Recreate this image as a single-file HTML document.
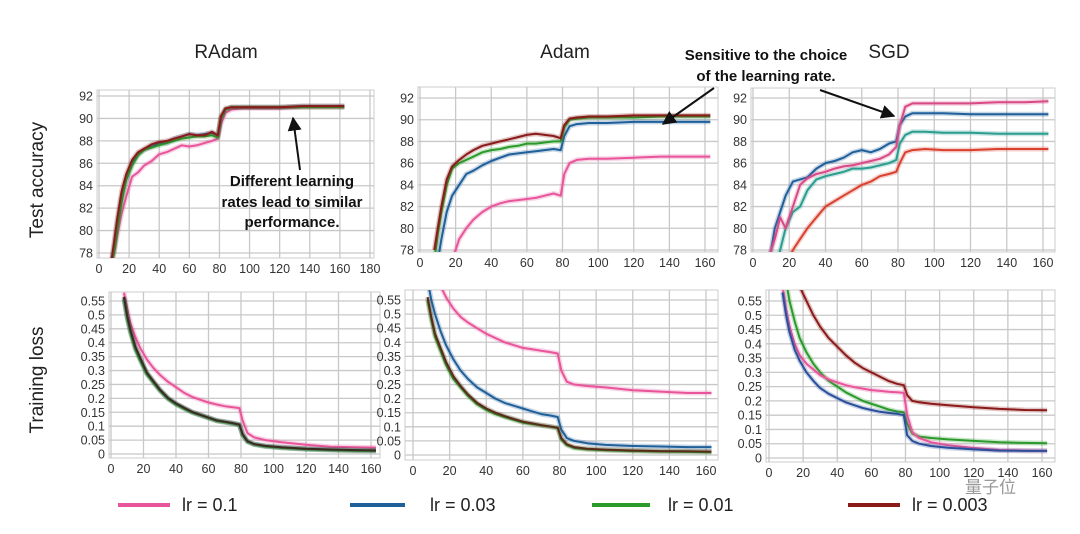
<!DOCTYPE html>
<html><head><meta charset="utf-8"><style>
body{margin:0;background:#fff;}
svg{display:block;font-family:"Liberation Sans","Noto Sans CJK SC",sans-serif;}
</style></head><body>
<svg id="chart" width="1080" height="534" viewBox="0 0 1080 534" xmlns="http://www.w3.org/2000/svg">
<defs>
<marker id="ah" viewBox="0 0 10 10" refX="9" refY="5" markerWidth="7" markerHeight="7" orient="auto"><path d="M0,0 L10,5 L0,10 z" fill="#111"/></marker>
</defs>
<text x="226" y="58" font-size="19" text-anchor="middle" fill="#222">RAdam</text>
<text x="565" y="58" font-size="19" text-anchor="middle" fill="#222">Adam</text>
<text x="889" y="58" font-size="19" text-anchor="middle" fill="#222">SGD</text>
<text transform="translate(43,180) rotate(-90)" font-size="19" text-anchor="middle" fill="#222">Test accuracy</text>
<text transform="translate(43,380) rotate(-90)" font-size="19" text-anchor="middle" fill="#222">Training loss</text>
<g id="panels"></g>
<g font-size="15" font-weight="bold" text-anchor="middle" fill="#111">
<text x="292" y="186">Different learning</text>
<text x="292" y="207">rates lead to similar</text>
<text x="292" y="227">performance.</text>
</g>
<line x1="300" y1="170" x2="293" y2="118" stroke="#111" stroke-width="2" marker-end="url(#ah)"/>
<g font-size="15" font-weight="bold" text-anchor="middle" fill="#111">
<text x="766" y="60">Sensitive to the choice</text>
<text x="766" y="81">of the learning rate.</text>
</g>
<line x1="714" y1="88" x2="663" y2="124" stroke="#111" stroke-width="2" marker-end="url(#ah)"/>
<line x1="820" y1="90" x2="894" y2="116" stroke="#111" stroke-width="2" marker-end="url(#ah)"/>
<g font-size="18" fill="#222">
<g><line x1="118" y1="505" x2="170" y2="505" stroke="#e8559a" stroke-width="4"/><text x="182" y="511">lr = 0.1</text></g>
<g><line x1="350" y1="505" x2="405" y2="505" stroke="#1f5f9a" stroke-width="4"/><text x="430" y="511">lr = 0.03</text></g>
<g><line x1="592" y1="505" x2="650" y2="505" stroke="#2a9a2a" stroke-width="4"/><text x="668" y="511">lr = 0.01</text></g>
<g><line x1="848" y1="505" x2="900" y2="505" stroke="#8b1a1a" stroke-width="4"/><text x="912" y="511">lr = 0.003</text></g>
</g>
<text x="965" y="493" font-size="17" fill="#999">量子位</text>
</svg>
<script>
const epochs=[8,10,12,15,18,22,26,30,35,40,45,50,55,60,65,70,75,79,81,84,88,95,105,120,135,150,163];
const radamAccPink=[77,78,79.5,81.5,83,84.8,85.2,85.8,86.2,86.8,87,87.3,87.6,87.5,87.6,87.8,88,88.2,89.5,90.5,90.8,90.9,90.9,90.9,91,91,91];
const radamAccBlue=[77,78.5,80.5,83,84.5,86,86.8,87.2,87.5,87.8,87.8,88.2,88.4,88.6,88.5,88.6,88.7,88.5,90,90.8,91,91,91,91,91.1,91.1,91.1];
const radamAccGreen=[77,78,80,82.5,84.5,85.8,86.7,87.2,87.4,87.6,87.8,88,88.2,88.3,88.4,88.4,88.5,88.3,90,90.8,91,91,91,91,91,91,91];
const radamAccRed=[77,79,81,83.5,85,86.3,87,87.3,87.7,87.9,88,88.2,88.4,88.6,88.5,88.5,88.8,88.5,90.2,90.9,91,91,91,91,91.1,91.1,91.1];
const adamAccPink=[70,72,74,76,77,79,80,80.8,81.5,82,82.3,82.5,82.6,82.7,82.8,83,83.2,83,85,86,86.3,86.4,86.4,86.5,86.6,86.6,86.6];
const adamAccBlue=[75,77,79,81.5,83,84,85,85.3,85.8,86.2,86.5,86.8,86.9,87,87.1,87.2,87.3,87.2,88.5,89.4,89.6,89.7,89.7,89.8,89.8,89.8,89.8];
const adamAccGreen=[77,79.5,81.5,84,85.5,86,86.3,86.6,87,87.2,87.3,87.5,87.6,87.8,87.8,87.9,88,88,89.3,90,90.1,90.2,90.2,90.2,90.3,90.3,90.3];
const adamAccRed=[78,80,82,84.5,85.7,86.3,86.8,87.2,87.6,87.8,88,88.2,88.4,88.6,88.7,88.6,88.5,88.3,89.5,90.1,90.2,90.3,90.3,90.4,90.4,90.4,90.4];
const sgdAccPink=[77,78,79,81,80,82,84,84.6,85,85.2,85.5,85.7,85.8,86,86.2,86.4,86.8,87.5,89.5,91.2,91.5,91.5,91.5,91.5,91.6,91.6,91.7];
const sgdAccBlue=[76,78,80,81.5,83,84.3,84.5,84.7,85.5,86,86.2,86.5,87,87.2,87,87.3,87.8,88,89.5,90.3,90.6,90.6,90.6,90.5,90.5,90.5,90.5];
const sgdAccGreen=[72,74,76,78,80,81.5,82,83.5,84.5,84.8,85,85.2,85.5,85.5,85.6,85.8,86,86.3,87.8,88.6,88.9,88.9,88.8,88.8,88.7,88.7,88.7];
const sgdAccRed=[70,71,73,75,76.5,78,79,80,81,82,82.5,83,83.5,84,84.3,84.8,85,85.2,86,87,87.2,87.3,87.2,87.2,87.3,87.3,87.3];
const radamLossPink=[0.58,0.52,0.47,0.42,0.38,0.34,0.31,0.285,0.26,0.24,0.22,0.205,0.195,0.185,0.178,0.172,0.168,0.165,0.12,0.075,0.06,0.05,0.042,0.033,0.026,0.024,0.023];
const radamLossBlue=[0.56,0.49,0.44,0.38,0.34,0.29,0.26,0.23,0.2,0.18,0.165,0.15,0.14,0.13,0.12,0.115,0.11,0.105,0.07,0.045,0.035,0.028,0.023,0.018,0.015,0.013,0.012];
const radamLossGreen=[0.555,0.485,0.435,0.375,0.335,0.287,0.257,0.228,0.198,0.178,0.163,0.149,0.139,0.129,0.119,0.114,0.109,0.104,0.068,0.044,0.034,0.027,0.022,0.017,0.014,0.012,0.011];
const radamLossRed=[0.565,0.495,0.445,0.385,0.345,0.293,0.262,0.232,0.202,0.182,0.166,0.151,0.141,0.131,0.121,0.116,0.111,0.106,0.071,0.046,0.036,0.029,0.024,0.019,0.016,0.014,0.013];
const adamLossPink=[0.75,0.7,0.65,0.6,0.56,0.52,0.49,0.47,0.45,0.43,0.415,0.4,0.39,0.38,0.375,0.37,0.365,0.36,0.3,0.26,0.25,0.245,0.24,0.23,0.225,0.22,0.22];
const adamLossBlue=[0.62,0.55,0.5,0.44,0.39,0.34,0.3,0.27,0.24,0.22,0.2,0.185,0.175,0.165,0.155,0.145,0.14,0.135,0.09,0.06,0.05,0.042,0.036,0.032,0.03,0.028,0.028];
const adamLossGreen=[0.55,0.48,0.42,0.37,0.32,0.27,0.24,0.21,0.18,0.16,0.145,0.135,0.125,0.115,0.11,0.105,0.1,0.095,0.055,0.035,0.025,0.02,0.017,0.014,0.012,0.011,0.01];
const adamLossRed=[0.56,0.49,0.43,0.38,0.33,0.28,0.245,0.215,0.185,0.165,0.15,0.138,0.128,0.118,0.112,0.106,0.101,0.097,0.06,0.038,0.028,0.022,0.019,0.016,0.014,0.013,0.012];
const sgdLossPink=[0.6,0.52,0.46,0.4,0.36,0.33,0.31,0.29,0.275,0.265,0.255,0.248,0.243,0.238,0.235,0.232,0.23,0.228,0.15,0.09,0.07,0.055,0.045,0.035,0.028,0.026,0.025];
const sgdLossBlue=[0.58,0.5,0.44,0.38,0.34,0.3,0.27,0.245,0.225,0.21,0.195,0.185,0.175,0.168,0.162,0.158,0.155,0.15,0.08,0.06,0.05,0.042,0.036,0.03,0.026,0.025,0.025];
const sgdLossGreen=[0.7,0.62,0.55,0.48,0.42,0.37,0.33,0.3,0.27,0.25,0.23,0.215,0.2,0.19,0.18,0.17,0.163,0.16,0.12,0.085,0.075,0.07,0.065,0.06,0.055,0.053,0.052];
const sgdLossRed=[0.9,0.8,0.72,0.65,0.6,0.55,0.5,0.46,0.42,0.39,0.36,0.335,0.315,0.3,0.285,0.27,0.26,0.255,0.22,0.2,0.195,0.19,0.185,0.178,0.172,0.168,0.167];
const accTicks=[78,80,82,84,86,88,90,92];
const lossTicks=[0,0.05,0.1,0.15,0.2,0.25,0.3,0.35,0.4,0.45,0.5,0.55];
const lossTickLabels=["0","0.05","0.1","0.15","0.2","0.25","0.3","0.35","0.4","0.45","0.5","0.55"];
const xTicksWide=[0,20,40,60,80,100,120,140,160,180];
const xTicksNarrow=[0,20,40,60,80,100,120,140,160];

const NS="http://www.w3.org/2000/svg";
const root=document.getElementById('panels');
function mk(tag,attrs,parent){const e=document.createElementNS(NS,tag);for(const k in attrs)e.setAttribute(k,attrs[k]);parent.appendChild(e);return e;}
const C={pink:"#e8559a",blue:"#1f5f9a",green:"#2a9a2a",red:"#8b1a1a",teal:"#2a9d8f",orange:"#d9412e"};
const panels=[
 {name:"radam-accuracy",box:[97,90,374,258],x0:99,x1:370,xv1:180,y0:253,y1:96,yv0:78,yv1:92,yt:accTicks,yl:accTicks.map(String),xt:xTicksWide,series:[[radamAccPink,C.pink,"pink"],[radamAccBlue,C.blue,"blue"],[radamAccGreen,C.green,"green"],[radamAccRed,C.red,"red"]]},
 {name:"adam-accuracy",box:[418,87,718,252],x0:420,x1:705,xv1:160,y0:250,y1:98,yv0:78,yv1:92,yt:accTicks,yl:accTicks.map(String),xt:xTicksNarrow,series:[[adamAccPink,C.pink,"pink"],[adamAccBlue,C.blue,"blue"],[adamAccGreen,C.green,"green"],[adamAccRed,C.red,"red"]]},
 {name:"sgd-accuracy",box:[751,88,1055,252],x0:753,x1:1043,xv1:160,y0:250,y1:98,yv0:78,yv1:92,yt:accTicks,yl:accTicks.map(String),xt:xTicksNarrow,series:[[sgdAccRed,C.orange,"red"],[sgdAccGreen,C.teal,"green"],[sgdAccBlue,C.blue,"blue"],[sgdAccPink,"#d84a86","pink"]]},
 {name:"radam-loss",box:[109,292,380,458],x0:111,x1:371,xv1:160,y0:454,y1:301,yv0:0,yv1:0.55,yt:lossTicks,yl:lossTickLabels,xt:xTicksNarrow,series:[[radamLossPink,C.pink,"pink"],[radamLossBlue,C.blue,"blue"],[radamLossGreen,C.green,"green"],[radamLossRed,"#3a2a22","red"]]},
 {name:"adam-loss",box:[405,290,718,460],x0:413,x1:706,xv1:160,y0:455,y1:300,yv0:0,yv1:0.55,yt:lossTicks,yl:lossTickLabels,xt:xTicksNarrow,series:[[adamLossPink,C.pink,"pink"],[adamLossBlue,C.blue,"blue"],[adamLossGreen,C.green,"green"],[adamLossRed,"#5a2a1a","red"]]},
 {name:"sgd-loss",box:[766,290,1055,462],x0:769,x1:1042,xv1:160,y0:458,y1:301,yv0:0,yv1:0.55,yt:lossTicks,yl:lossTickLabels,xt:xTicksNarrow,series:[[sgdLossRed,C.red,"red"],[sgdLossGreen,C.green,"green"],[sgdLossPink,C.pink,"pink"],[sgdLossBlue,"#2a4f9a","blue"]]}
];
panels.forEach((p,i)=>{
 const g=mk('g',{},root);
 
 
 const sx=v=>p.x0+(v/p.xv1)*(p.x1-p.x0);
 const sy=v=>p.y0+(v-p.yv0)/(p.yv1-p.yv0)*(p.y1-p.y0);
 const [bx0,by0,bx1,by1]=p.box;
 mk('rect',{x:bx0,y:by0,width:bx1-bx0,height:by1-by0,fill:"#fff",stroke:"#ccc","stroke-width":1},g);
 p.yt.forEach((t,k)=>{const y=sy(t);
  mk('line',{x1:bx0,x2:bx1,y1:y,y2:y,stroke:"#c8c8c8","stroke-width":1.3},g);
  const tx=mk('text',{x:bx0-4,y:y+4.5,"font-size":12.5,"text-anchor":"end",fill:"#333"},g);tx.textContent=p.yl[k];
  
  
 });
 p.xt.forEach(t=>{const x=sx(t);
  mk('line',{x1:x,x2:x,y1:by0,y2:by1,stroke:"#c8c8c8","stroke-width":1.3},g);
  const tx=mk('text',{x:x,y:by1+15,"font-size":12.5,"text-anchor":"middle",fill:"#333"},g);tx.textContent=String(t);
  
  
 });
 const cid='clip'+i;
 const cp=mk('clipPath',{id:cid},g);mk('rect',{x:bx0,y:by0,width:bx1-bx0,height:by1-by0},cp);
 const sg=mk('g',{'clip-path':'url(#'+cid+')'},g);
 p.series.forEach(s=>{
  const d=s[0].map((v,k)=>(k?'L':'M')+sx(epochs[k]).toFixed(1)+','+sy(v).toFixed(1)).join(' ');
  mk('path',{d:d,fill:"none",stroke:s[1],"stroke-width":5,"stroke-opacity":0.25,"stroke-linejoin":"round"},sg);
  const pl=mk('path',{d:d,fill:"none",stroke:s[1],"stroke-width":2,"stroke-linejoin":"round"},sg);
  
  
 });
});
</script>
</body></html>
